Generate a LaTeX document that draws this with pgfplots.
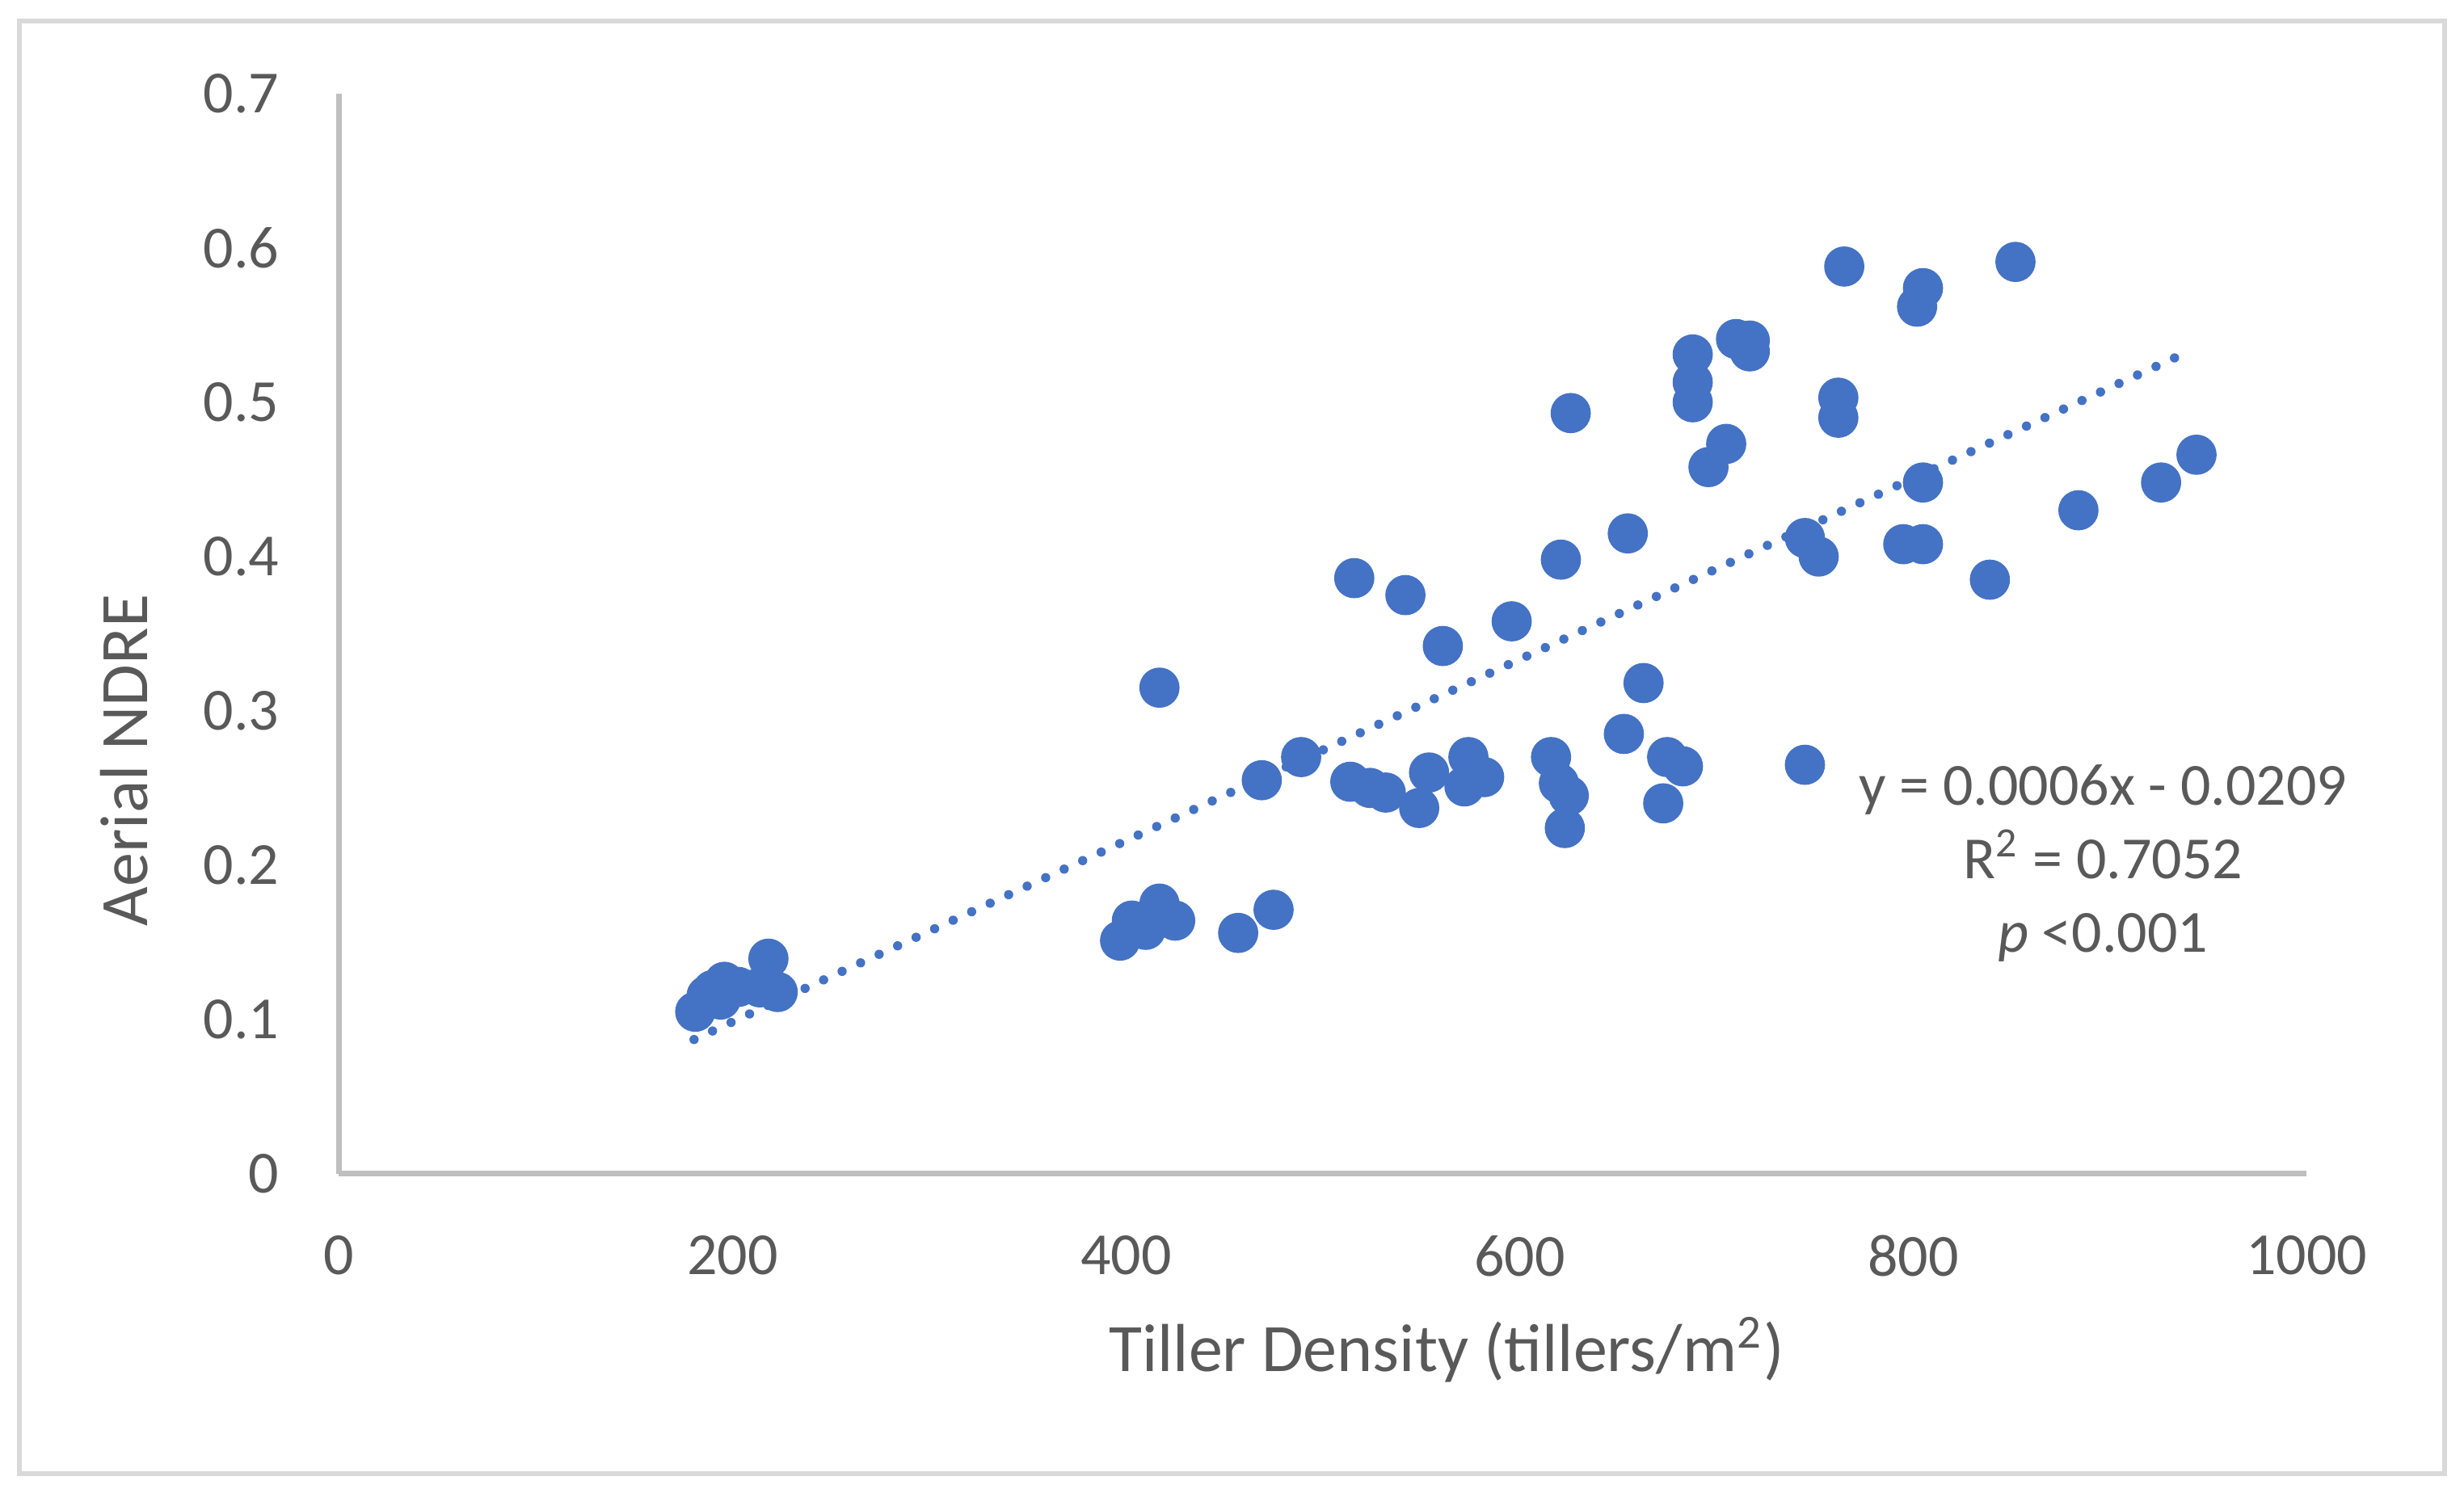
\documentclass[border=0pt]{standalone}
\usepackage{pgfplots}
\pgfplotsset{compat=1.18}
\usepackage{pgfplotstable}
\usepackage{fontspec}
\setmainfont{Carlito}
\definecolor{txt}{HTML}{595959}
\definecolor{axl}{HTML}{BFBFBF}
\definecolor{frm}{HTML}{D9D9D9}
\definecolor{mk}{HTML}{4472C4}
\pgfplotstableread{
x y
181.1 0.1049
186.9 0.1154
190.0 0.1190
194.0 0.1128
195.9 0.1243
203.0 0.1210
214.0 0.1207
218.3 0.1393
223.0 0.1177
397 0.151
403 0.164
410 0.158
417 0.175
425 0.164
457 0.156
475 0.171
417 0.315
469 0.255
489 0.270
514 0.254
524 0.250
532 0.247
549 0.237
554 0.260
572 0.251
574 0.270
582 0.257
616 0.270
620 0.253
625 0.245
623 0.224
653 0.285
663 0.318
675 0.270
683 0.264
673 0.240
745 0.265
516 0.386
542 0.375
561 0.342
596 0.358
621 0.398
655 0.415
626 0.493
688 0.531
688 0.513
688 0.500
705 0.473
696 0.458
710 0.541
717 0.540
717 0.533
762 0.503
762 0.490
765 0.588
852 0.591
805 0.574
802 0.562
805 0.448
745 0.412
752 0.400
795 0.408
805 0.408
839 0.385
884 0.430
926 0.448
944 0.466
}\pts
\begin{document}
\begin{tikzpicture}
\useasboundingbox (-62.37pt,-58.07pt) rectangle (391.15pt,216.06pt);
\draw[frm, line width=1pt] (-58.80pt,-55.24pt) rectangle (387.57pt,212.19pt);
\begin{axis}[
  at={(0pt,0pt)}, anchor=south west,
  scale only axis, width=362.2pt, height=198.8pt,
  xmin=0, xmax=1000, ymin=0, ymax=0.7,
  xtick={0,200,400,600,800,1000},
  ytick={0,0.1,0.2,0.3,0.4,0.5,0.6,0.7},
  /pgf/number format/assume math mode=true,
  /pgf/number format/fixed,
  /pgf/number format/1000 sep={},
  axis x line=bottom, axis y line=left,
  axis line style={-, draw=axl, line width=1pt},
  major tick length=0pt,
  tick label style={font=\fontsize{11}{13}\selectfont, text=txt},
  yticklabel style={anchor=east, inner sep=0pt, xshift=-10.8pt},
  xticklabel style={anchor=north, inner sep=0pt, yshift=-11.2pt},
  xlabel={Tiller Density (tillers/m\textsuperscript{2})},
  ylabel={Aerial NDRE},
  label style={font=\fontsize{12.5}{15}\selectfont, text=txt},
  xlabel style={at={(axis description cs:0.563,-0.1836)}, anchor=base},
  ylabel style={at={(axis description cs:-0.0972,0.3828)}, anchor=base},
  clip=false,
]
\addplot[only marks, mark=*, mark size=3.5pt, color=mk, mark options={draw=mk, fill=mk}] table[x=x, y=y] {\pts};
\addplot[mk, line width=1.7pt, line cap=round, dash pattern=on 0pt off 3.75pt] coordinates {(180.5,0.0869) (938,0.5318)};
\node[anchor=base, font=\fontsize{11}{13}\selectfont, text=txt] at (axis cs:896.5,0.2391) {y = 0.0006x - 0.0209};
\node[anchor=base, font=\fontsize{11}{13}\selectfont, text=txt] at (axis cs:896.5,0.1914) {R\textsuperscript{2} = 0.7052};
\node[anchor=base, font=\fontsize{11}{13}\selectfont, text=txt] at (axis cs:896.5,0.1437) {\textit{p} <0.001};
\end{axis}
\end{tikzpicture}
\end{document}
